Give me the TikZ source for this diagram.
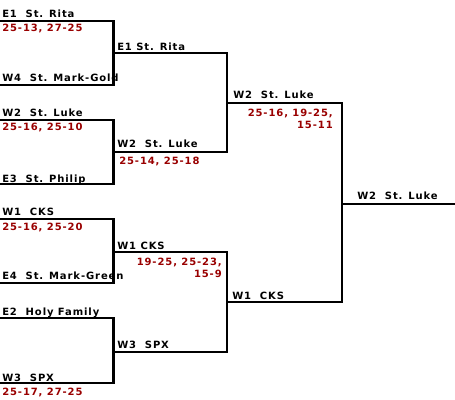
\documentclass[tikz,border=0pt]{standalone}
\usepackage{fontspec}
\setmainfont{DejaVu Sans}
\newfontfamily\bfont[LetterSpace=9]{DejaVu Sans Bold}
\definecolor{score}{HTML}{990000}
\begin{document}
\begin{tikzpicture}[x=0.75pt,y=-0.75pt,
  team/.style={anchor=base west, inner sep=0pt, font=\bfont\fontsize{7.5pt}{9pt}\selectfont},
  sc/.style={team, text=score},
  scr/.style={anchor=base east, inner sep=0pt, font=\bfont\fontsize{7.5pt}{9pt}\selectfont, text=score},
  bracket/.style={line width=1.6pt}]
\useasboundingbox (0,0) rectangle (455,400);
% coordinates
\coordinate (a1) at (0,21);   \coordinate (a2) at (0,85);
\coordinate (b1) at (0,120);  \coordinate (b2) at (0,184);
\coordinate (c1) at (0,219);  \coordinate (c2) at (0,283);
\coordinate (d1) at (0,318);  \coordinate (d2) at (0,383);
\coordinate (ra) at (113.5,53);  \coordinate (rb) at (113.5,152);
\coordinate (rc) at (113.5,252); \coordinate (rd) at (113.5,352);
\coordinate (sa) at (227,103);   \coordinate (sb) at (227,302);
\coordinate (fa) at (342,204);   \coordinate (fe) at (455,204);
% brackets
\draw[bracket] (a1) -| (ra |- a2) -- (a2);
\draw[bracket] (b1) -| (rb |- b2) -- (b2);
\draw[bracket] (c1) -| (rc |- c2) -- (c2);
\draw[bracket] (d1) -| (rd |- d2) -- (d2);
\draw[bracket] (ra) -| (sa |- rb) -- (rb);
\draw[bracket] (rc) -| (sb |- rd) -- (rd);
\draw[bracket] (sa) -| (fa |- sb) -- (sb);
\draw[bracket] (fa) -- (fe);
% round 1
\node[team] (t1) at (2,17) {E1\ \ St. Rita};
\node[sc] (s1) at (2,31.5) {25-13, 27-25};
\node[team] (t2) at (2,81) {W4\ \ St. Mark-Gold};
\node[team] (t3) at (2,116) {W2\ \ St. Luke};
\node[sc] (s3) at (2,130.5) {25-16, 25-10};
\node[team] (t4) at (2,182) {E3\ \ St. Philip};
\node[team] (t5) at (2,215) {W1\ \ CKS};
\node[sc] (s5) at (2,230.5) {25-16, 25-20};
\node[team] (t6) at (2,279) {E4\ \ St. Mark-Green};
\node[team] (t7) at (2,315) {E2\ \ Holy Family};
\node[team] (t8) at (2,381) {W3\ \ SPX};
\node[sc] (s8) at (2,395) {25-17, 27-25};
% round 2
\node[team] (u1) at (117,50) {E1 St. Rita};
\node[team] (u2) at (117,147) {W2\ \ St. Luke};
\node[sc] (v2) at (119,164.5) {25-14, 25-18};
\node[team] (u3) at (117,249) {W1 CKS};
\node[scr] (v3a) at (222,265.5) {19-25, 25-23,};
\node[scr] (v3b) at (222,277) {15-9};
\node[team] (u4) at (117,348) {W3\ \ SPX};
% round 3
\node[team] (w1) at (233,98) {W2\ \ St. Luke};
\node[scr] (x1a) at (333,116.5) {25-16, 19-25,};
\node[scr] (x1b) at (333,128) {15-11};
\node[team] (w2) at (232,299) {W1\ \ CKS};
% final
\node[team] (f) at (357,199) {W2\ \ St. Luke};
\end{tikzpicture}
\end{document}
